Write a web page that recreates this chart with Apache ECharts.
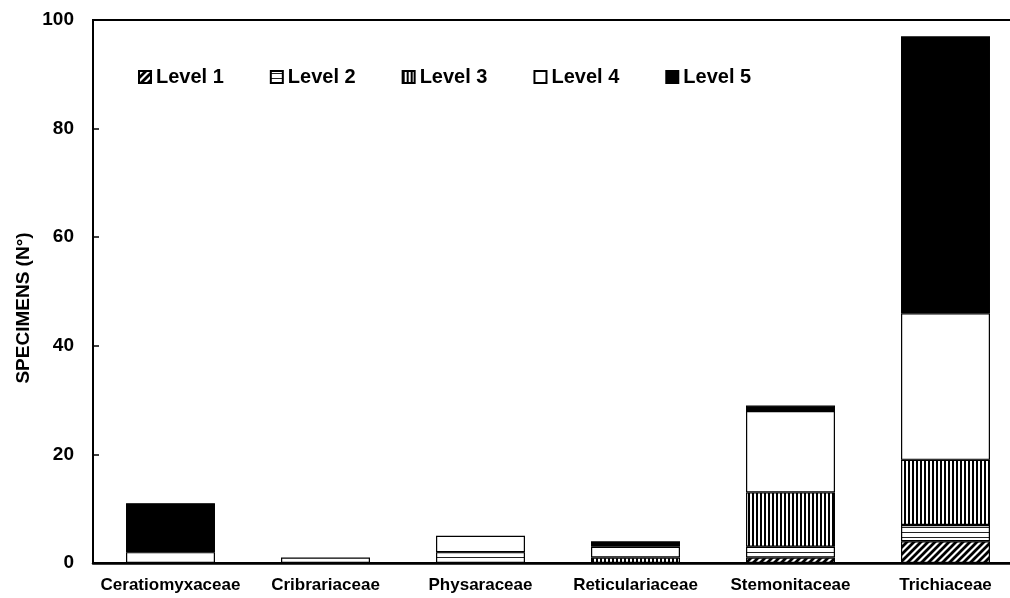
<!DOCTYPE html>
<html>
<head>
<meta charset="utf-8">
<script src="https://cdn.jsdelivr.net/npm/echarts@6/dist/echarts.min.js"></script>
<style>html,body{margin:0;padding:0;background:#fff;overflow:hidden;width:1010px;height:598px;}#c{width:1030px;height:598px;}</style>
</head>
<body>
<div id="c"></div>
<script>
const categories = ['Ceratiomyxaceae', 'Cribrariaceae', 'Physaraceae', 'Reticulariaceae', 'Stemonitaceae', 'Trichiaceae'];
const level1 = [0, 0, 0, 0, 1, 4];
const level2 = [0, 0, 2, 0, 2, 3];
const level3 = [0, 0, 0, 1, 10, 12];
const level4 = [2, 1, 3, 2, 15, 27];
const level5 = [9, 0, 0, 1, 1, 51];
const seriesNames = ['Level 1', 'Level 2', 'Level 3', 'Level 4', 'Level 5'];
const yTicks = [0, 20, 40, 60, 80, 100];
const yName = 'SPECIMENS (N°)';

function tile(w, h, draw) {
  const c = document.createElement('canvas');
  c.width = w; c.height = h;
  const g = c.getContext('2d');
  g.fillStyle = '#fff'; g.fillRect(0, 0, w, h);
  g.strokeStyle = '#000'; g.fillStyle = '#000';
  draw(g);
  return { image: c, repeat: 'repeat' };
}
const pDiag = tile(7, 7, g => {
  g.lineWidth = 2.8;
  g.beginPath();
  g.moveTo(-1, 8); g.lineTo(8, -1);
  g.moveTo(-2, 2); g.lineTo(2, -2);
  g.moveTo(5, 9); g.lineTo(9, 5);
  g.stroke();
});
const pHoriz = tile(6, 5, g => { g.fillStyle = '#222'; g.fillRect(0, 2, 6, 1); });
const pVert = tile(4, 6, g => { g.fillRect(0, 0, 2, 6); });
const fills = [pDiag, pHoriz, pVert, '#ffffff', '#000000'];
const values = [level1, level2, level3, level4, level5];

const font = '"Liberation Sans", Arial, sans-serif';

const chart = echarts.init(document.getElementById('c'), null, { renderer: 'canvas' });
chart.setOption({
  animation: false,
  backgroundColor: '#fff',
  grid: { left: 93, top: 20, width: 930, height: 543, show: true, borderColor: '#000', borderWidth: 2, backgroundColor: 'transparent' },
  legend: {
    data: seriesNames,
    left: 133, top: 62,
    itemWidth: 12, itemHeight: 12, itemGap: 46,
    textStyle: { fontFamily: font, fontWeight: 'bold', fontSize: 20, color: '#000', padding: [0, 0, 0, 0] },
    icon: 'rect'
  },
  graphic: [{
    type: 'text', x: 24, y: 308, rotation: Math.PI / 2,
    style: { text: yName, fontFamily: font, fontWeight: 'bold', fontSize: 19, fill: '#000', align: 'center', verticalAlign: 'middle' }
  }],
  xAxis: {
    type: 'category',
    data: categories,
    axisLine: { lineStyle: { color: '#000', width: 2.5 } },
    axisTick: { show: false },
    axisLabel: { fontFamily: font, fontWeight: 'bold', fontSize: 17, color: '#000', margin: 14, interval: 0 }
  },
  yAxis: {
    type: 'value',
    min: 0, max: 100, interval: 20,
    axisLine: { show: true, lineStyle: { color: '#000', width: 2 } },
    axisTick: { show: true, inside: true, length: 6, lineStyle: { color: '#000', width: 1.5 } },
    splitLine: { show: false },
    axisLabel: { fontFamily: font, fontWeight: 'bold', fontSize: 19, color: '#000', margin: 19,
      formatter: v => yTicks.includes(v) ? String(v) : '' }
  },
  series: seriesNames.map((n, i) => ({
    name: n,
    type: 'bar',
    stack: 'total',
    barWidth: '57.4%',
    data: values[i].map(v => v === 0 ? null : v),
    itemStyle: { color: fills[i], borderColor: '#000', borderWidth: 1.2 }
  }))
});
</script>
</body>
</html>
